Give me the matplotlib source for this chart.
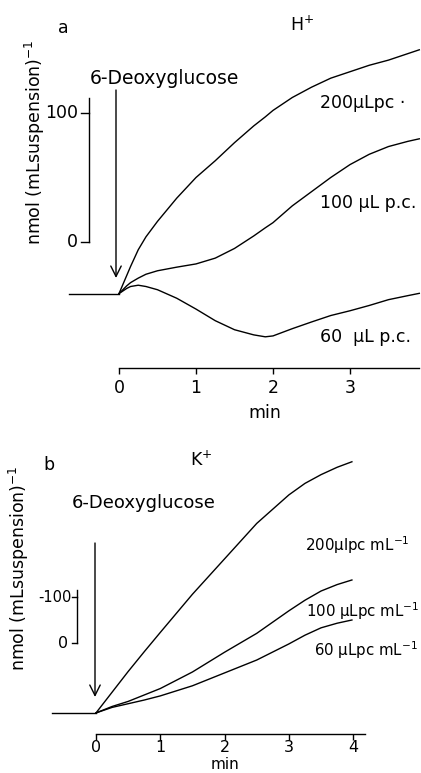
import matplotlib
matplotlib.use("Agg")
import matplotlib.pyplot as plt

# ---------------- data ----------------
# Panel a: H+ (nmol per mL suspension), time in min
t_pre_a = [-0.65, 0.0]
base_a = [-40, -40]
t_a = [0, 0.05, 0.1, 0.15, 0.25, 0.35, 0.5, 0.75, 1.0, 1.25, 1.5, 1.75, 1.9,
       2.0, 2.25, 2.5, 2.75, 3.0, 3.25, 3.5, 3.75, 3.9]
h_200 = [-40, -33, -26, -19, -6, 4, 16, 34, 50, 63, 77, 90, 97,
         102, 112, 120, 127, 132, 137, 141, 146, 149]
h_100 = [-40, -37, -34, -31.5, -28, -25, -22.3, -19.5, -17, -12.5, -5, 4.7, 11,
         15, 28, 39, 50, 60, 68, 74, 78, 80]
h_60 = [-40, -38, -36, -34.5, -33.5, -34.5, -37, -43.6, -52, -61, -68, -72, -73.5,
        -72.8, -67.2, -62, -57, -53.3, -49.2, -44.7, -41.6, -39.8]
labels_a = ["200\u03bcLpc \u00b7", "100 \u03bcL p.c.", "60  \u03bcL p.c."]
xticks_a = [0, 1, 2, 3]

# Panel b: K+
t_pre_b = [-0.68, 0.0]
base_b = [-152, -152]
t_b = [0, 0.25, 0.5, 0.75, 1.0, 1.5, 2.0, 2.5, 3.0, 3.25, 3.5, 3.75, 3.98]
k_200 = [-152, -107, -62, -19, 23, 106, 183, 260, 322, 347, 366, 382, 394]
k_100 = [-152, -138, -127, -113, -99, -63, -20, 21, 70, 93, 113, 127, 137]
k_60 = [-152, -140, -132, -124, -115, -93, -65, -37, -2, 17, 33, 43, 50]
labels_b = ["200\u03bclpc mL$^{-1}$", "100 \u03bcLpc mL$^{-1}$", "60 \u03bcLpc mL$^{-1}$"]
xticks_b = [0, 1, 2, 3, 4]

scale_vals = [0, 100]

# ---------------- layout ----------------
W, H = 421, 773
plt.rcParams['font.family'] = ['DejaVu Sans']
fig = plt.figure(figsize=(W / 100, H / 100), dpi=100)
FS = 12.5


def P(x, y):
    return (x / W, 1 - y / H)


def place(l, t, r, b, x0px, xs, y0px, ys):
    ax = fig.add_axes([l / W, 1 - b / H, (r - l) / W, (b - t) / H])
    ax.set_xlim((l - x0px) / xs, (r - x0px) / xs)
    ax.set_ylim((y0px - b) / ys, (y0px - t) / ys)
    for s in ("top", "right", "left"):
        ax.spines[s].set_visible(False)
    ax.set_yticks([])
    ax.patch.set_alpha(0)
    return ax


def ftext(x, y, s, ha="left", va="center", size=FS, **kw):
    fig.text(*P(x, y), s, ha=ha, va=va, fontsize=size, **kw)


def vline_px(x, y0, y1, lw=1.0):
    fig.add_artist(plt.Line2D([x / W, x / W], [1 - y0 / H, 1 - y1 / H],
                              color="black", lw=lw, transform=fig.transFigure))


def hline_px(x0, x1, y, lw=1.0):
    fig.add_artist(plt.Line2D([x0 / W, x1 / W], [1 - y / H, 1 - y / H],
                              color="black", lw=lw, transform=fig.transFigure))


def arrow_px(x, y0, y1):
    fig.add_artist(matplotlib.patches.FancyArrowPatch(
        P(x, y0), P(x, y1), transform=fig.transFigure,
        arrowstyle="->,head_length=5,head_width=2.5", lw=1.0, color="black",
        shrinkA=0, shrinkB=0, mutation_scale=1.5))


lw = 1.0
# ---- panel a ----
ax_a = place(40, 10, 421, 368, 119, 77, 242, 1.29)
ax_a.plot(t_pre_a, base_a, color="black", lw=lw)
for ys in (h_200, h_100, h_60):
    ax_a.plot(t_a, ys, color="black", lw=lw)
ax_a.spines["bottom"].set_bounds(0, 3.9)
ax_a.spines["bottom"].set_linewidth(1.0)
ax_a.set_xticks(xticks_a)
ax_a.set_xticklabels([str(v) for v in xticks_a], fontsize=FS)
ax_a.tick_params(axis="x", direction="out", length=4, width=1.0, pad=4)

ftext(58, 28, "a")
ftext(290, 25, "H$^{+}$")
ftext(90, 78, "6-Deoxyglucose", size=13.5)
arrow_px(116, 90, 278)
# scale bar a
vline_px(89, 98, 242)
hline_px(81, 89, 113)
hline_px(81, 89, 242)
ftext(78, 113, str(scale_vals[1]), ha="right")
ftext(78, 242, str(scale_vals[0]), ha="right")
fig.text(*P(35, 142), "nmol (mLsuspension)$^{-1}$", rotation=90,
         ha="center", va="center", fontsize=FS)
ftext(320, 103, labels_a[0])
ftext(320, 203, labels_a[1])
ftext(320, 337, labels_a[2])
ftext(265, 413, "min", ha="center")

# ---- panel b ----
ax_b = place(20, 440, 421, 734, 96, 64.3, 643, 0.46)
ax_b.plot(t_pre_b, base_b, color="black", lw=lw)
for ys in (k_200, k_100, k_60):
    ax_b.plot(t_b, ys, color="black", lw=lw)
ax_b.spines["bottom"].set_bounds(0, 4.18)
ax_b.spines["bottom"].set_linewidth(1.0)
ax_b.set_xticks(xticks_b)
ax_b.set_xticklabels([str(v) for v in xticks_b], fontsize=11.5)
ax_b.tick_params(axis="x", direction="out", length=4, width=1.0, pad=0)

ftext(43, 465, "b")
ftext(190, 460, "K$^{+}$")
ftext(72, 503, "6-Deoxyglucose", size=13)
arrow_px(95, 543, 697)
vline_px(77, 590, 643)
hline_px(72, 77, 597)
hline_px(72, 77, 643)
ftext(72, 597, "-100", ha="right", size=10.5)
ftext(68, 643, str(scale_vals[0]), ha="right", size=11.5)
fig.text(*P(19, 568), "nmol (mLsuspension)$^{-1}$", rotation=90,
         ha="center", va="center", fontsize=FS)
ftext(305, 545, labels_b[0], size=10.8)
ftext(306, 611, labels_b[1], size=10.8)
ftext(314, 650, labels_b[2], size=10.8)
ftext(225, 772, "min", ha="center", va="bottom", size=11)

fig.savefig("out.png", dpi=100)
